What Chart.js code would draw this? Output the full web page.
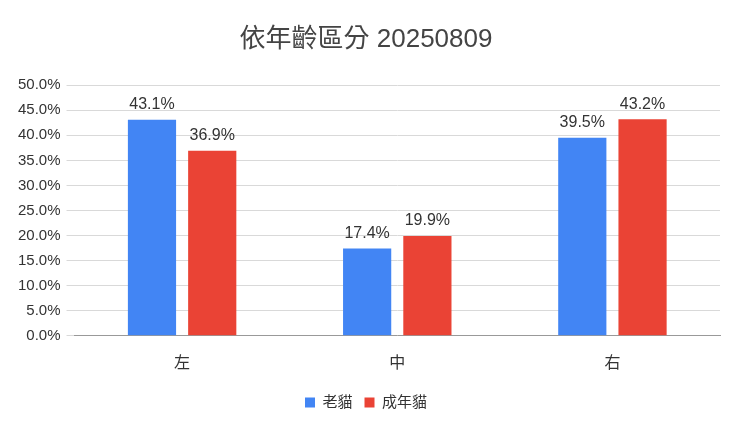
<!DOCTYPE html>
<html>
<head>
<meta charset="utf-8">
<script src="https://cdn.jsdelivr.net/npm/chart.js@4"></script>
<style>
  body { margin: 0; background: #fff; }
  #wrap { width: 740px; height: 430px; }
</style>
</head>
<body>
<div id="wrap"><canvas id="grafico"></canvas></div>
<script>
const categorias = ["左", "中", "右"];
const laoMao = [43.1, 17.4, 39.5];
const chengNianMao = [36.9, 19.9, 43.2];
const nombresSeries = ["老貓", "成年貓"];
const titulo = "依年齡區分 20250809";

const FUENTE = "'Liberation Sans', 'Noto Sans CJK TC', sans-serif";

// etiquetas encima de cada barra
const etiquetasBarras = {
  id: "etiquetasBarras",
  afterDatasetsDraw(chart) {
    const ctx = chart.ctx;
    ctx.save();
    ctx.font = "16px " + FUENTE;
    ctx.fillStyle = "#333";
    ctx.textAlign = "center";
    ctx.textBaseline = "bottom";
    chart.data.datasets.forEach((ds, i) => {
      chart.getDatasetMeta(i).data.forEach((bar, j) => {
        ctx.fillText(ds.data[j].toFixed(1) + "%", bar.x, bar.y - 7);
      });
    });
    ctx.restore();
  }
};

const ctx = document.getElementById("grafico").getContext("2d");
new Chart(ctx, {
  type: "bar",
  data: {
    labels: categorias,
    datasets: [
      { label: nombresSeries[0], data: laoMao, backgroundColor: "#4285F4" },
      { label: nombresSeries[1], data: chengNianMao, backgroundColor: "#EA4335" }
    ]
  },
  options: {
    responsive: true,
    maintainAspectRatio: false,
    animation: false,
    categoryPercentage: 0.56,
    barPercentage: 0.8,
    layout: { padding: { left: 12, right: 20, top: 14, bottom: 10 } },
    plugins: {
      title: {
        display: true,
        text: titulo,
        color: "#444",
        font: { family: FUENTE, size: 26, weight: "normal" },
        padding: { top: 10, bottom: 30 }
      },
      legend: {
        position: "bottom",
        labels: {
          boxWidth: 10, boxHeight: 10, color: "#333", padding: 12,
          font: { family: FUENTE, size: 15 }
        }
      },
      tooltip: { enabled: false }
    },
    scales: {
      x: {
        grid: { display: false },
        border: { color: "#999" },
        ticks: { color: "#333", font: { family: FUENTE, size: 16 }, padding: 10 }
      },
      y: {
        min: 0, max: 50,
        border: { display: false },
        grid: { color: "#d9d9d9" },
        ticks: {
          stepSize: 5, color: "#333", padding: 6,
          font: { family: FUENTE, size: 15 },
          callback: v => v.toFixed(1) + "%"
        }
      }
    }
  },
  plugins: [etiquetasBarras]
});
</script>
</body>
</html>
